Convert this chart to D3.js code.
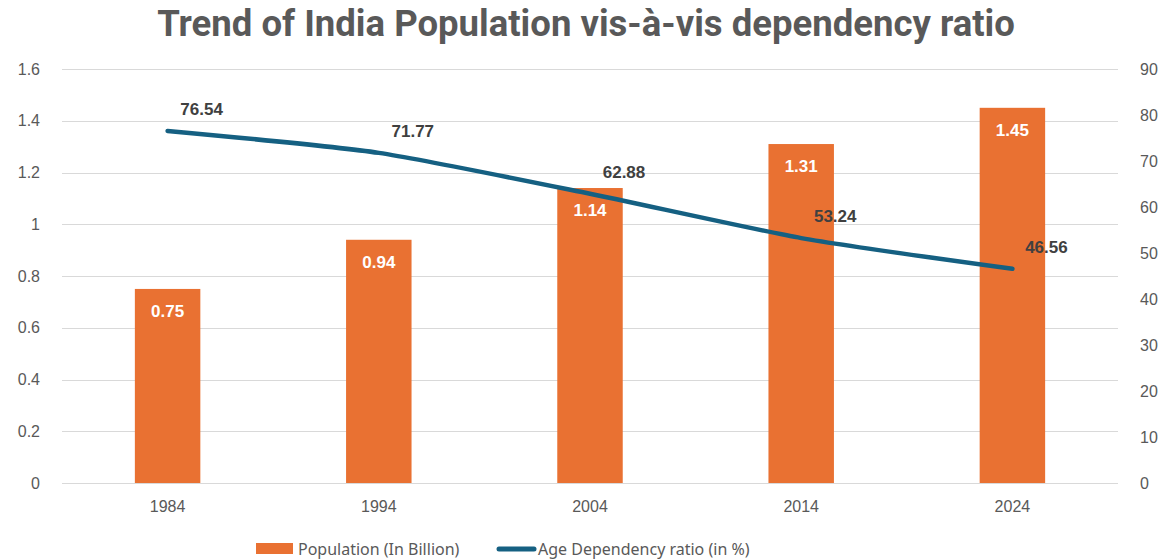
<!DOCTYPE html>
<html>
<head>
<meta charset="utf-8">
<script src="https://cdn.jsdelivr.net/npm/d3@7"></script>
<style>
  body { margin: 0; background: #fff; }
  svg { display: block; }
</style>
</head>
<body>
<div id="chart"></div>
<script>
// data
const years = ["1984", "1994", "2004", "2014", "2024"];
const population = [0.75, 0.94, 1.14, 1.31, 1.45];
const dependency = [76.54, 71.77, 62.88, 53.24, 46.56];
const leftTicks = [0, 0.2, 0.4, 0.6, 0.8, 1, 1.2, 1.4, 1.6];
const rightTicks = [0, 10, 20, 30, 40, 50, 60, 70, 80, 90];

const width = 1168, height = 560;
const margin = { top: 69, right: 50, bottom: 77, left: 62 };
const orange = "#E97132", blue = "#156082", grey = "#595959";

const svg = d3.select("#chart").append("svg")
    .attr("width", width)
    .attr("height", height);

const x = d3.scaleBand()
    .domain(years)
    .range([margin.left, width - margin.right])
    .paddingInner(0.69)
    .paddingOuter(0.345);

const y = d3.scaleLinear().domain([0, 1.6]).range([height - margin.bottom, margin.top]);
const y2 = d3.scaleLinear().domain([0, 90]).range([height - margin.bottom, margin.top]);

// title
const title = svg.append("text")
    .attr("x", 586)
    .attr("y", 36)
    .attr("text-anchor", "middle")
    .style("font-family", "'Roboto', sans-serif")
    .style("font-weight", "bold")
    .style("font-size", "27px")
    .style("fill", grey)
    .text("Trend of India Population vis-à-vis dependency ratio");
// fit to the width seen in the reference
const tw = title.node().getComputedTextLength();
title.style("font-size", (27 * 858 / tw) + "px");

// gridlines
svg.append("g")
    .selectAll("line")
    .data(leftTicks)
    .join("line")
    .attr("x1", margin.left)
    .attr("x2", width - margin.right)
    .attr("y1", d => Math.round(y(d)) + 0.5)
    .attr("y2", d => Math.round(y(d)) + 0.5)
    .style("stroke", "#d9d9d9")
    .style("stroke-width", 1);

// left axis
const leftAxis = svg.append("g")
    .attr("transform", `translate(${margin.left},0)`)
    .call(d3.axisLeft(y).tickValues(leftTicks).tickSize(0).tickPadding(22).tickFormat(d3.format("")));
leftAxis.select(".domain").remove();
leftAxis.selectAll("text")
    .style("font-family", "'Liberation Sans', Arial, sans-serif")
    .style("font-size", "16px")
    .style("fill", grey);

// right axis
const rightAxis = svg.append("g")
    .attr("transform", `translate(${width - margin.right},0)`)
    .call(d3.axisRight(y2).tickValues(rightTicks).tickSize(0).tickPadding(22));
rightAxis.select(".domain").remove();
rightAxis.selectAll("text")
    .style("font-family", "'Liberation Sans', Arial, sans-serif")
    .style("font-size", "16px")
    .style("fill", grey);

// bottom axis
const bottomAxis = svg.append("g")
    .attr("transform", `translate(0,${height - margin.bottom})`)
    .call(d3.axisBottom(x).tickSize(0).tickPadding(18));
bottomAxis.select(".domain").remove();
bottomAxis.selectAll("text")
    .style("font-family", "'Liberation Sans', Arial, sans-serif")
    .style("font-size", "16px")
    .style("fill", grey);

// bars
svg.append("g")
    .selectAll("rect")
    .data(population)
    .join("rect")
    .attr("x", (d, i) => x(years[i]))
    .attr("y", d => y(d))
    .attr("width", x.bandwidth())
    .attr("height", d => y(0) - y(d))
    .style("fill", orange);

svg.append("g")
    .selectAll("text")
    .data(population)
    .join("text")
    .attr("x", (d, i) => x(years[i]) + x.bandwidth() / 2)
    .attr("y", d => y(d) + 28)
    .attr("text-anchor", "middle")
    .style("font-family", "'Liberation Sans', Arial, sans-serif")
    .style("font-weight", "bold")
    .style("font-size", "17px")
    .style("fill", "#fff")
    .text(d => d3.format(".2f")(d));

// dependency line
const cx = i => x(years[i]) + x.bandwidth() / 2;
const line = d3.line()
    .x((d, i) => cx(i))
    .y(d => y2(d))
    .curve(d3.curveCardinal.tension(0.4));

svg.append("path")
    .datum(dependency)
    .attr("d", line)
    .style("fill", "none")
    .style("stroke", blue)
    .style("stroke-width", 4.5)
    .style("stroke-linecap", "round");

svg.append("g")
    .selectAll("text")
    .data(dependency)
    .join("text")
    .attr("x", (d, i) => cx(i) + 34)
    .attr("y", d => y2(d) - 16)
    .attr("text-anchor", "middle")
    .style("font-family", "'Liberation Sans', Arial, sans-serif")
    .style("font-weight", "bold")
    .style("font-size", "17px")
    .style("fill", "#404040")
    .text(d => d3.format(".2f")(d));

// legend
const legend = svg.append("g").attr("transform", "translate(0,549)");
legend.append("rect")
    .attr("x", 256).attr("y", -6)
    .attr("width", 37).attr("height", 11)
    .style("fill", orange);
legend.append("text")
    .attr("x", 298).attr("y", 6)
    .style("font-family", "'Noto Sans', sans-serif")
    .style("font-size", "16px")
    .style("fill", grey)
    .text("Population (In Billion)");
legend.append("line")
    .attr("x1", 499).attr("x2", 534)
    .attr("y1", 0).attr("y2", 0)
    .style("stroke", blue)
    .style("stroke-width", 5)
    .style("stroke-linecap", "round");
legend.append("text")
    .attr("x", 538).attr("y", 6)
    .style("font-family", "'Noto Sans', sans-serif")
    .style("font-size", "16px")
    .style("fill", grey)
    .text("Age Dependency ratio (in %)");
</script>
</body>
</html>
